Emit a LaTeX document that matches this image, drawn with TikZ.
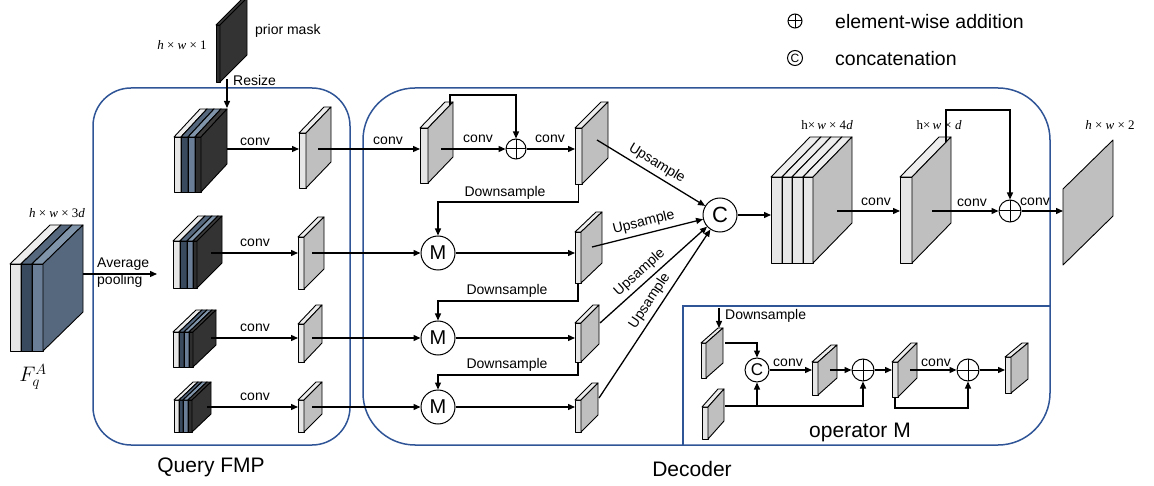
\RequirePackage{fix-cm}
\documentclass[tikz,border=0pt]{standalone}
\usepackage{fontspec}
\setmainfont{Liberation Sans}
\newfontfamily\dimfont{Liberation Serif}
\usetikzlibrary{arrows.meta,calc}

\definecolor{boxblue}{HTML}{2F5597}
\definecolor{lightf}{HTML}{E6E6E6}
\definecolor{lightt}{HTML}{EDEDED}
\definecolor{grays}{HTML}{BFBFBF}
\definecolor{navyf}{HTML}{3A4A5E}
\definecolor{navyt}{HTML}{56687D}
\definecolor{slatef}{HTML}{6A7F97}
\definecolor{slatet}{HTML}{8094AA}
\definecolor{slates}{HTML}{56687D}
\definecolor{blackf}{HTML}{2E2E2E}
\definecolor{blackt}{HTML}{3C3C3C}
\definecolor{blacks}{HTML}{333333}

% thin slab seen obliquely: x, y (front top-left), width, height, depth dx, depth dy,
% front colour, top colour, side colour
\newcommand\fslab[9]{%
  \filldraw[slabline, fill=#7] (#1,#2) rectangle ++(#3,#4);
  \filldraw[slabline, fill=#8] (#1,#2) -- ++(#5,#6) -- ++(#3,0) -- ++({-(#5)},{-(#6)}) -- cycle;
  \filldraw[slabline, fill=#9] ({#1+#3},#2) -- ++(#5,#6) -- ++(0,#4) -- ++({-(#5)},{-(#6)}) -- cycle;
}
\newcommand\lslab[6]{\fslab{#1}{#2}{#3}{#4}{#5}{#6}{lightf}{lightt}{grays}}
% italic tensor-size letters
\newcommand\vi[1]{{\itshape #1}}

\begin{document}
\begin{tikzpicture}[x=1pt,y=-1pt,
  slabline/.style={draw=black, line width=0.9pt, line join=round},
  wire/.style={draw=black, line width=1.3pt},
  conn/.style={wire, -{Triangle[length=7pt,width=6pt]}},
  lbl/.style={font=\fontsize{14}{16}\selectfont, inner sep=0pt},
  dims/.style={font=\dimfont\fontsize{13}{15}\selectfont, inner sep=0pt},
  title/.style={font=\fontsize{21}{24}\selectfont, inner sep=0pt},
  legend/.style={font=\fontsize{19.5}{22}\selectfont, inner sep=0pt, anchor=west},
  region/.style={draw=boxblue, line width=1.5pt},
  addop/.style={circle, draw, line width=1pt, inner sep=0pt, minimum size=#1,
    path picture={\draw[line width=1pt]
      (path picture bounding box.north) -- (path picture bounding box.south)
      (path picture bounding box.west) -- (path picture bounding box.east);}},
  mop/.style={circle, draw, line width=1pt, inner sep=0pt, minimum size=34pt,
    font=\fontsize{20}{22}\selectfont},
  catop/.style={circle, draw, line width=1pt, inner sep=0pt, minimum size=#1},
]
\useasboundingbox (0,0) rectangle (1154,486);

% ---------- regions ----------
\draw[region, rounded corners=38pt] (93,88) rectangle (350,445);
\draw[region, rounded corners=52pt] (363,88) rectangle (1050,445);
\draw[region] (683,445) -- (683,306) -- (1050,306);

% ---------- input feature F_q^A ----------
\fslab{10}{264}{11}{87}{40}{-39}{lightf}{lightt}{grays}
\fslab{21}{264}{11}{87}{40}{-39}{navyf}{navyt}{navyf}
\fslab{32}{264}{11}{87}{40}{-39}{slatef}{slatet}{slates}
\node[dims] (dimfq) at (57,213) {\vi{h} × \vi{w} × 3\vi{d}};
\node[inner sep=0pt, font=\fontsize{21}{23}\selectfont] (fqname) at (33,377) {$F_q^A$};

% ---------- prior mask ----------
\fslab{216}{25}{4}{57}{27}{-27}{blackf}{blackt}{blacks}
\node[lbl, anchor=west] (maskname) at (255,31) {prior mask};
\node[dims] (dimmask) at (182,45) {\vi{h} × \vi{w} × 1};

% ---------- Query FMP stacks ----------
\fslab{174}{137}{7}{55}{26}{-28}{lightf}{lightt}{grays}
\fslab{181}{137}{7}{55}{26}{-28}{navyf}{navyt}{navyf}
\fslab{188}{137}{7}{55}{26}{-28}{slatef}{slatet}{slates}
\fslab{195}{137}{6}{55}{26}{-28}{blackf}{blackt}{blacks}

\fslab{173}{241}{7}{47}{25}{-25}{lightf}{lightt}{grays}
\fslab{180}{241}{7}{47}{25}{-25}{navyf}{navyt}{navyf}
\fslab{187}{241}{6}{47}{25}{-25}{slatef}{slatet}{slates}
\fslab{193}{241}{4}{47}{25}{-25}{blackf}{blackt}{blacks}

\fslab{173}{332}{6}{35}{23}{-22}{lightf}{lightt}{grays}
\fslab{179}{332}{5}{35}{23}{-22}{navyf}{navyt}{navyf}
\fslab{184}{332}{5}{35}{23}{-22}{slatef}{slatet}{slates}
\fslab{189}{332}{4}{35}{23}{-22}{blackf}{blackt}{blacks}

\fslab{174}{400}{5}{32}{19}{-18}{lightf}{lightt}{grays}
\fslab{179}{400}{4}{32}{19}{-18}{navyf}{navyt}{navyf}
\fslab{183}{400}{5}{32}{19}{-18}{slatef}{slatet}{slates}
\fslab{188}{400}{4}{32}{19}{-18}{blackf}{blackt}{blacks}

% pooled outputs
\lslab{299}{133}{7}{55}{25}{-26}
\lslab{298}{237}{6}{52}{20}{-20}
\lslab{298}{324}{6}{38}{18}{-19}
\lslab{298}{400}{6}{32}{18}{-18}

% ---------- decoder slabs ----------
\lslab{420}{128}{8}{55}{25}{-26}
\lslab{575}{128}{7}{56}{26}{-26}
\lslab{575}{232}{6}{51}{21}{-20}
\lslab{575}{323}{6}{39}{18}{-18}
\lslab{575}{400}{6}{32}{17}{-17}

% concatenated stack and fused feature
\lslab{771}{177}{11}{86}{39}{-40}
\lslab{782}{177}{10}{86}{39}{-40}
\lslab{792}{177}{11}{86}{39}{-40}
\lslab{803}{177}{10}{86}{39}{-40}
\lslab{900}{177}{12}{86}{39}{-40}
\node[dims] (dim4d) at (827,125) {h×\,\vi{w} × 4\vi{d}};
\node[dims] (dimd) at (939,125) {h×\,\vi{w} × \vi{d}};

% prediction
\filldraw[slabline, fill=grays] (1063,189) -- (1113,140) -- (1113,216) -- (1063,265) -- cycle;
\node[dims] (dim2) at (1110,125) {\vi{h} × \vi{w} × 2};

% ---------- operator M slabs ----------
\lslab{701}{343}{5}{35}{17}{-15}
\lslab{702}{407}{6}{32}{16}{-18}
\lslab{812}{362}{6}{33}{19}{-17}
\lslab{892}{362}{6}{35}{19}{-19}
\lslab{1005}{357}{6}{36}{17}{-14}

% ---------- operator nodes ----------
\node[addop=20pt] (add1) at (516,149) {};
\node[mop] (m1) at (438,253) {M};
\node[mop] (m2) at (438,338) {M};
\node[mop] (m3) at (438,407) {M};
\node[catop=34pt, font=\fontsize{22}{24}\selectfont] (cat) at (720,215) {C};
\node[addop=22pt] (add2) at (1010,211) {};
\node[catop=24pt, font=\fontsize{17}{19}\selectfont] (catm) at (757,370) {C};
\node[addop=22pt] (addm1) at (863,370) {};
\node[addop=22pt] (addm2) at (968,370) {};

% ---------- anchor points on slabs ----------
\coordinate (fqout) at (83,274);
\coordinate (poolend) at (157,274);
\coordinate (maskout) at (227,79);
\coordinate (s1top) at (227,108);
\coordinate (s1out) at (227,149);  \coordinate (q1in) at (299,149);
\coordinate (s2out) at (211,253);  \coordinate (q2in) at (298,253);
\coordinate (s3out) at (211,338);  \coordinate (q3in) at (298,338);
\coordinate (s4out) at (207,407);  \coordinate (q4in) at (298,407);
\coordinate (q1out) at (318,149);  \coordinate (d1in) at (420,149);
\coordinate (q2out) at (312,253);
\coordinate (q3out) at (312,338);
\coordinate (q4out) at (312,407);
\coordinate (d1out) at (441,149);  \coordinate (d1top) at (450,105);
\coordinate (d2in) at (575,149);   \coordinate (d2bot) at (578.5,184);
\coordinate (d3in) at (575,253);   \coordinate (d3bot) at (578,283);
\coordinate (d4in) at (575,338);   \coordinate (d4bot) at (578,362);
\coordinate (d5in) at (575,407);
\coordinate (up1) at (597,140);
\coordinate (up2) at (592,247);
\coordinate (up3) at (600,323);
\coordinate (up4) at (599,398);
\coordinate (bigin) at (771,215);
\coordinate (bigout) at (837,211); \coordinate (fin) at (900,211);
\coordinate (fout) at (932,211);   \coordinate (ftop) at (946,142);
\coordinate (planein) at (1063,211);
\coordinate (dsin) at (719,308);   \coordinate (ain) at (719,328);
\coordinate (aout) at (725,343);
\coordinate (bout) at (725,406);
\coordinate (c2in) at (812,370);   \coordinate (c2out) at (830,370);
\coordinate (ein) at (892,370);    \coordinate (eout) at (910,370);
\coordinate (ebot) at (895,397);
\coordinate (gin) at (1005,370);

% ---------- connectors ----------
\draw[conn] (fqout) -- (poolend);
\node[lbl, align=left, anchor=west, font=\fontsize{14}{17}\selectfont] (pooltxt) at (97,273) {Average\\pooling};
\draw[conn] (maskout) -- (s1top);
\node[lbl, anchor=west] (resizetxt) at (233,80) {Resize};

\draw[conn] (s1out) -- (q1in);
\draw[conn] (s2out) -- (q2in);
\draw[conn] (s3out) -- (q3in);
\draw[conn] (s4out) -- (q4in);
\node[lbl] (qc1) at (255,142) {conv};
\node[lbl] (qc2) at (255,243) {conv};
\node[lbl] (qc3) at (255,328) {conv};
\node[lbl] (qc4) at (255,397) {conv};

\draw[conn] (q1out) -- (d1in);
\draw[conn] (q2out) -- (m1);
\draw[conn] (q3out) -- (m2);
\draw[conn] (q4out) -- (m3);
\node[lbl] (dc0) at (388,141) {conv};

\draw[conn] (d1out) -- (add1);
\draw[conn] (d1top) -- ++(0,-10) -| (add1.north);
\draw[conn] (add1) -- (d2in);
\node[lbl] (dc1) at (478,139) {conv};
\node[lbl] (dc2) at (550,139) {conv};

\draw[conn] (d2bot) -- ++(0,18) -| (m1.north);
\draw[conn] (d3bot) -- ++(0,18) -| (m2.north);
\draw[conn] (d4bot) -- ++(0,13) -| (m3.north);
\node[lbl] (ds1) at (505,193) {Downsample};
\node[lbl] (ds2) at (507,291) {Downsample};
\node[lbl] (ds3) at (507,365) {Downsample};

\draw[conn] (m1) -- (d3in);
\draw[conn] (m2) -- (d4in);
\draw[conn] (m3) -- (d5in);

\draw[conn] (up1) -- node[lbl, sloped, above=4pt, pos=0.5] (us1) {Upsample} (cat);
\draw[conn] (up2) -- node[lbl, sloped, above=4pt, pos=0.49] (us2) {Upsample} (cat);
\draw[conn] (up3) -- node[lbl, sloped, above=4pt, pos=0.44] (us3) {Upsample} (cat);
\draw[conn] (up4) -- node[lbl, sloped, above=4pt, pos=0.54] (us4) {Upsample} (cat);

\draw[conn] (cat) -- (bigin);
\draw[conn] (bigout) -- (fin);
\node[lbl] (fc1) at (876,202) {conv};
\draw[conn] (fout) -- (add2);
\node[lbl] (fc2) at (972,203) {conv};
\draw[conn] (ftop) -- ++(0,-32) -| (add2.north);
\draw[conn] (add2) -- (planein);
\node[lbl] (fc3) at (1035,202) {conv};

% operator M detail
\draw[conn] (dsin) -- (ain);
\node[lbl, anchor=west] (dsm) at (725,316) {Downsample};
\draw[conn] (aout) -| (catm.north);
\draw[conn] (bout) -| (addm1.south);
\draw[conn] (catm |- bout) -- (catm.south);
\draw[conn] (catm) -- (c2in);
\node[lbl] (mc1) at (788,363) {conv};
\draw[conn] (c2out) -- (addm1);
\draw[conn] (addm1) -- (ein);
\draw[conn] (eout) -- (addm2);
\node[lbl] (mc2) at (936,363) {conv};
\draw[conn] (ebot) -- ++(0,11) -| (addm2.south);
\draw[conn] (addm2) -- (gin);
\node[title] (opname) at (860,432) {operator M};

% ---------- titles and legend ----------
\node[title] (qtitle) at (211,467) {Query FMP};
\node[title] (dtitle) at (692,469) {Decoder};
\node[addop=14pt] (lgadd) at (795,21) {};
\node[legend] (lgaddtxt) at (835,22) {element-wise addition};
\node[catop=15pt, font=\fontsize{12}{14}\selectfont] (lgcat) at (795,58) {C};
\node[legend] (lgcattxt) at (835,59) {concatenation};
\end{tikzpicture}
\end{document}
